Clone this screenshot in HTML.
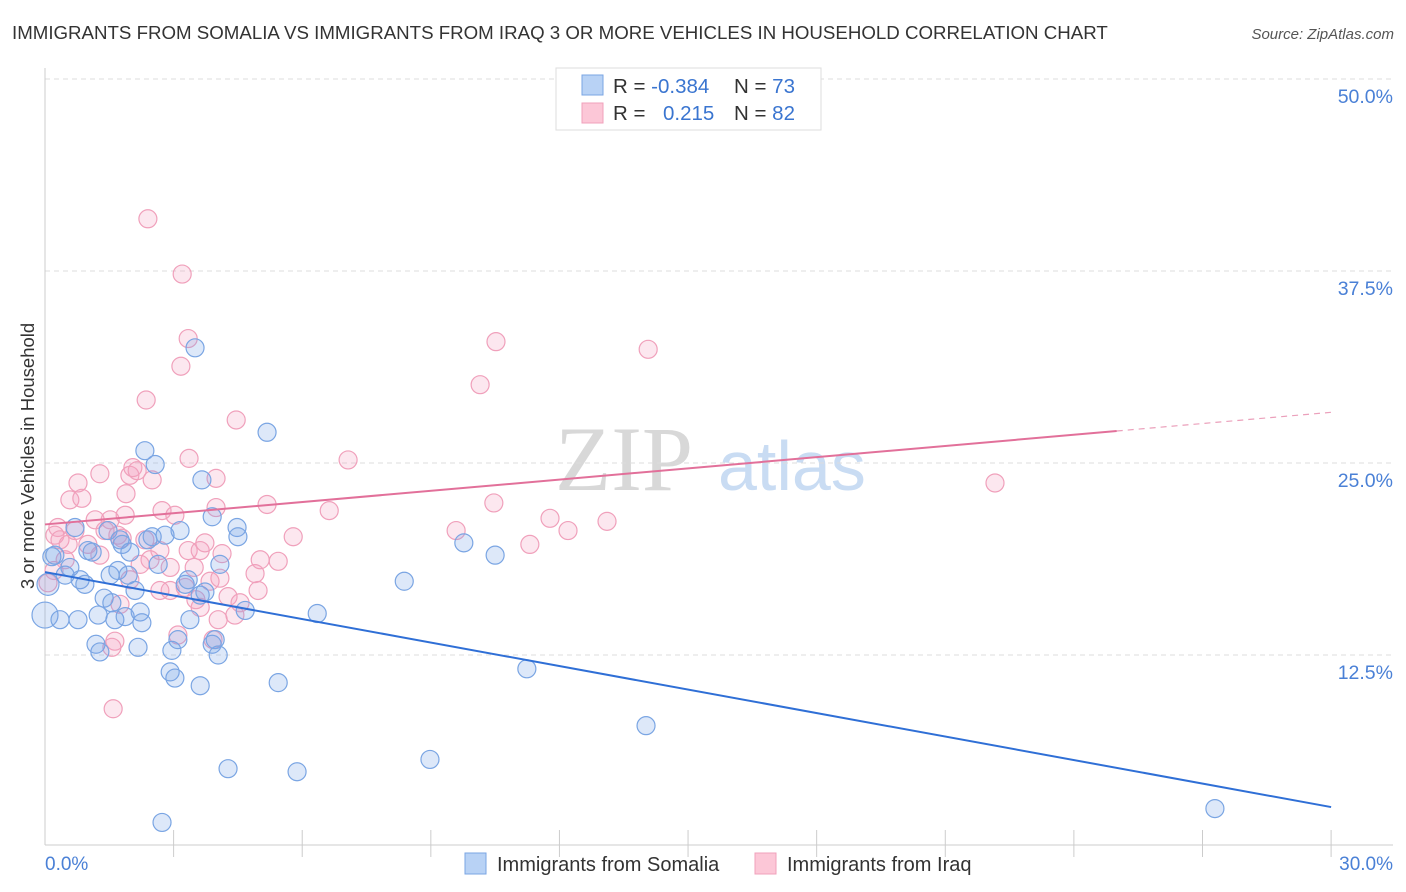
<!DOCTYPE html>
<html><head><meta charset="utf-8"><style>
body{margin:0;background:#fff;font-family:"Liberation Sans",sans-serif;}
svg{display:block}
</style></head><body>
<svg id="chart" width="1406" height="892" xmlns="http://www.w3.org/2000/svg">
<text x="12" y="39" font-size="18.7" fill="#333">IMMIGRANTS FROM SOMALIA VS IMMIGRANTS FROM IRAQ 3 OR MORE VEHICLES IN HOUSEHOLD CORRELATION CHART</text>
<text x="1394" y="39" font-size="15" fill="#555" font-style="italic" text-anchor="end">Source: ZipAtlas.com</text>
<g>
<text x="555" y="490" font-size="92" font-family="Liberation Serif,serif" fill="#d8d8d8">ZIP</text>
<text x="718" y="490" font-size="70" fill="#c9dcf3">atlas</text>
</g>
<g id="grid"></g><g id="axes"></g><g id="pts"></g><g id="trends"></g>
<text transform="translate(34,456) rotate(-90)" font-size="18.5" fill="#333" text-anchor="middle">3 or more Vehicles in Household</text>
<g>
<rect x="556" y="68" width="265" height="62" fill="#fff" stroke="#ddd"/>
<rect x="582" y="75" width="21" height="20" fill="#b8d2f5" stroke="#7aa5e3"/>
<rect x="582" y="103" width="21" height="20" fill="#fcc7d7" stroke="#f0a0bb"/>
<text x="613" y="93" font-size="20.5" fill="#333">R = <tspan fill="#3a75d0">-0.384</tspan></text>
<text x="734" y="93" font-size="20.5" fill="#333">N = <tspan fill="#3a75d0">73</tspan></text>
<text x="613" y="120" font-size="20.5" fill="#333">R = </text>
<text x="663" y="120" font-size="20.5" fill="#3a75d0">0.215</text>
<text x="734" y="120" font-size="20.5" fill="#333">N = <tspan fill="#3a75d0">82</tspan></text>
</g>
<g>
<rect x="465" y="853" width="21" height="21" fill="#b8d2f5" stroke="#7aa5e3"/>
<text x="497" y="871" font-size="20" fill="#333">Immigrants from Somalia</text>
<rect x="755" y="853" width="21" height="21" fill="#fcc7d7" stroke="#f0a0bb"/>
<text x="787" y="871" font-size="20" fill="#333">Immigrants from Iraq</text>
</g>
</svg>
<script>
const yTicks=[12.5,25,37.5,50];
const yTickLabels=["12.5%","25.0%","37.5%","50.0%"];
const xTickLabels=["0.0%","30.0%"];
const somaliaX=[0,.07,.16,.23,.35,.47,.58,.70,.77,.82,.93,1.0,1.1,1.19,1.24,1.28,1.38,1.47,1.52,1.56,1.63,1.70,1.75,1.80,1.87,1.94,1.98,2.10,2.17,2.22,2.26,2.33,2.40,2.50,2.57,2.64,2.80,2.92,2.96,3.03,3.10,3.15,3.27,3.34,3.38,3.50,3.62,3.62,3.66,3.73,3.90,3.90,3.97,4.04,4.08,4.27,4.48,4.50,4.67,5.18,5.44,5.88,6.35,8.38,8.98,9.77,10.5,11.24,14.02,27.29,2.73];
const somaliaY=[15.1,17.1,18.9,19.0,14.8,17.7,18.2,20.8,14.8,17.4,17.1,19.3,19.2,13.2,15.1,12.7,16.2,20.6,17.7,15.9,14.8,18.0,20.0,19.7,15.0,17.7,19.2,16.7,13.0,15.3,14.6,25.8,20.0,20.2,24.9,18.4,20.3,11.4,12.8,11.0,13.5,20.6,17.1,17.4,14.8,32.5,16.4,10.5,23.9,16.6,21.5,13.2,13.5,12.5,18.4,5.1,20.8,20.2,15.4,27.0,10.7,4.9,15.2,17.3,5.7,19.8,19.0,11.6,7.9,2.5,1.6];
const iraqX=[2.40,3.20,3.34,3.17,2.36,4.46,3.36,7.07,1.98,1.28,.77,.58,.86,2.05,2.15,2.50,1.89,3.99,3.99,5.18,6.63,2.73,3.03,1.52,1.87,1.17,.30,.23,.35,.54,.70,1.40,1.70,1.80,2.33,2.68,2.45,2.92,3.34,3.62,3.73,4.13,3.85,3.48,3.27,4.27,4.55,4.90,4.97,5.44,5.79,4.08,2.92,3.62,1.63,1.56,1.59,3.10,3.92,.47,.21,.07,10.52,10.15,14.07,9.59,10.47,11.31,11.78,12.20,13.11,22.16,2.22,1.0,1.28,1.98,2.68,4.43,4.04,3.52,5.02,1.75];
const iraqY=[40.9,37.3,33.1,31.3,29.1,27.8,25.3,25.2,24.2,24.3,23.7,22.6,22.7,24.7,24.5,23.9,23.0,24.0,22.1,22.3,21.9,21.9,21.6,21.3,21.6,21.3,20.8,20.3,20.0,19.7,20.6,20.6,20.3,20.1,20.0,19.3,18.7,18.2,19.3,19.3,19.8,19.1,17.3,18.2,16.9,16.3,15.9,17.8,16.7,18.6,20.2,17.5,16.7,15.6,13.4,13.0,9.0,13.8,13.5,18.7,18.0,17.2,32.9,30.1,32.4,20.6,22.4,19.7,21.4,20.6,21.2,23.7,18.4,19.7,19.0,17.4,16.7,15.1,14.8,16.1,18.7,15.8];
const somaliaTrend=[17.9,2.6];
const iraqTrend=[21.0,28.3];
const X=v=>45+v*42.87, Y=v=>847-v*15.36;
const NS="http://www.w3.org/2000/svg";
function mk(p,t,a){const e=document.createElementNS(NS,t);for(const k in a)e.setAttribute(k,a[k]);document.getElementById(p).appendChild(e);return e;}
yTicks.forEach((t,i)=>{
  const l=mk('grid','line',{x1:45,x2:1393,y1:Y(t),y2:Y(t),stroke:'#ddd','stroke-dasharray':'5,4'});
  
  
  const tx=mk('grid','text',{x:1393,y:Y(t)+24,'font-size':19.5,fill:'#4a80d6','text-anchor':'end'});
  tx.textContent=yTickLabels[i];
  
  
});
const ax=mk('axes','line',{x1:45,x2:45,y1:68,y2:845,stroke:'#ccc'});


const bx=mk('axes','line',{x1:45,x2:1393,y1:845,y2:845,stroke:'#ccc'});


for(let v=3;v<=30;v+=3){const t=mk('axes','line',{x1:X(v),x2:X(v),y1:830,y2:857,stroke:'#ccc'});

}
[[0,'start',45],[30,'end',1393]].forEach((d,i)=>{const t=mk('axes','text',{x:d[2],y:870,'font-size':19,fill:'#4a80d6','text-anchor':d[1]});t.textContent=xTickLabels[i];

});
iraqX.forEach((x,i)=>{const c=mk('pts','circle',{cx:X(x),cy:Y(iraqY[i]),r:9,fill:'rgba(245,160,190,0.25)',stroke:'#f0a0bb','stroke-width':1.2});

});
somaliaX.forEach((x,i)=>{const c=mk('pts','circle',{cx:X(x),cy:Y(somaliaY[i]),r:i==0?13:(i==1?11:9),fill:'rgba(120,165,230,0.25)',stroke:'#7aa5e3','stroke-width':1.2});

});
const b=mk('trends','line',{x1:X(0),y1:Y(somaliaTrend[0]),x2:X(30),y2:Y(somaliaTrend[1]),stroke:'#2f6fd6','stroke-width':2});


const yAt=v=>iraqTrend[0]+(iraqTrend[1]-iraqTrend[0])*v/30;
const p=mk('trends','line',{x1:X(0),y1:Y(yAt(0)),x2:X(25),y2:Y(yAt(25)),stroke:'#e2709a','stroke-width':2});


const pd=mk('trends','line',{x1:X(25),y1:Y(yAt(25)),x2:X(30),y2:Y(yAt(30)),stroke:'#eba0bb','stroke-width':1.2,'stroke-dasharray':'6,5'});


</script>
</body></html>
